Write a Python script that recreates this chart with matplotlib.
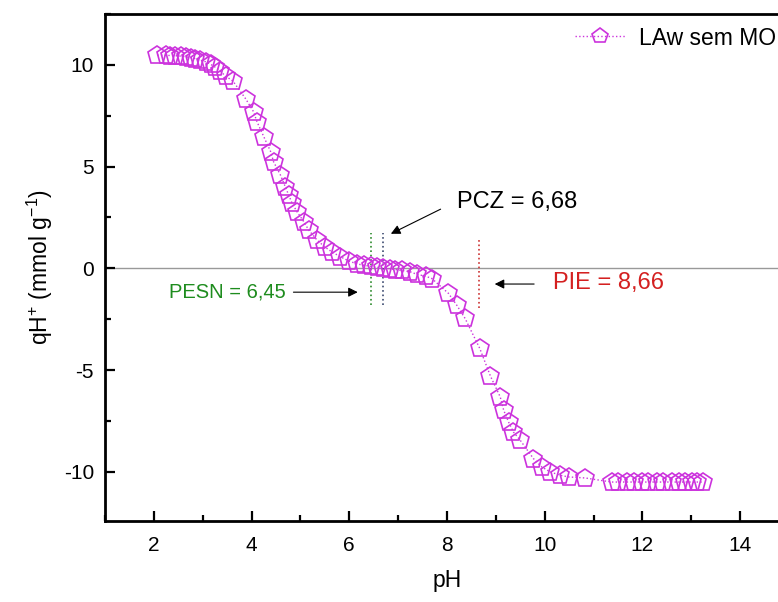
import matplotlib
matplotlib.use('Agg')
import matplotlib.pyplot as plt
from matplotlib.ticker import MultipleLocator

plt.rcParams['font.family'] = ['Liberation Sans', 'DejaVu Sans']
plt.rcParams['mathtext.fontset'] = 'custom'
plt.rcParams['mathtext.rm'] = 'Liberation Sans'
plt.rcParams['mathtext.it'] = 'Liberation Sans:italic'
plt.rcParams['axes.unicode_minus'] = False

ph = [2.07, 2.24, 2.34, 2.44, 2.55, 2.65, 2.75, 2.85, 2.95, 3.06, 3.16, 3.26,
      3.36, 3.47, 3.62, 3.88, 4.04, 4.11, 4.25, 4.39, 4.45, 4.59, 4.69, 4.76,
      4.83, 4.93, 5.07, 5.17, 5.34, 5.50, 5.65, 5.82, 5.99, 6.16, 6.30, 6.45,
      6.57, 6.70, 6.84, 6.94, 7.08, 7.25, 7.39, 7.56, 7.69, 8.03, 8.20, 8.37,
      8.67, 8.89, 9.09, 9.16, 9.26, 9.36, 9.50, 9.77, 9.94, 10.11, 10.32, 10.49,
      10.83, 11.37, 11.51, 11.68, 11.82, 11.99, 12.12, 12.29, 12.43, 12.60,
      12.74, 12.87, 13.01, 13.11, 13.24]
qh = [10.48, 10.47, 10.46, 10.45, 10.43, 10.40, 10.36, 10.31, 10.24, 10.15,
      10.03, 9.88, 9.68, 9.45, 9.20, 8.33, 7.70, 7.21, 6.47, 5.74, 5.24, 4.59,
      4.01, 3.60, 3.20, 2.78, 2.29, 1.88, 1.39, 1.05, 0.80, 0.57, 0.36, 0.22,
      0.15, 0.10, 0.06, 0.00, -0.02, -0.06, -0.10, -0.17, -0.30, -0.38, -0.50,
      -1.23, -1.81, -2.46, -3.93, -5.30, -6.32, -6.97, -7.55, -8.04, -8.45,
      -9.35, -9.76, -10.00, -10.17, -10.25, -10.30, -10.50, -10.50, -10.50,
      -10.50, -10.50, -10.50, -10.50, -10.50, -10.50, -10.50, -10.50, -10.50,
      -10.50, -10.50]

pesn = 6.45
pcz = 6.68
pie = 8.66

fig = plt.figure(figsize=(7.78, 6.02), dpi=100)
ax = fig.add_axes([105 / 778, 81.3 / 602, 684 / 778, 506.7 / 602])

ax.axhline(0, color='#999999', lw=1.0, zorder=1)
ax.plot(ph, qh, ls=':', lw=1.0, color='#CC33DD', marker='p', ms=13.5,
        mfc='none', mew=1.2, label='LAw sem MO', zorder=3)

# vertical markers at the points
ax.vlines(pesn, -1.8, 1.73, colors='#2E8B2E', linestyles=':', lw=1.2)
ax.vlines(pcz, -1.8, 1.73, colors='#3C4A70', linestyles=':', lw=1.2)
ax.vlines(pie, -1.95, 1.5, colors='#CC3333', linestyles=':', lw=1.2)

arrow = dict(arrowstyle='-|>', color='black', lw=0.8, mutation_scale=14)
ax.annotate('', xy=(6.80, 1.64), xytext=(7.92, 2.97), arrowprops=arrow)
ax.text(8.2, 3.28, 'PCZ = 6,68', fontsize=17, color='black', va='center')

ax.annotate('', xy=(8.92, -0.77), xytext=(9.84, -0.77), arrowprops=arrow)
ax.text(10.17, -0.74, 'PIE = 8,66', fontsize=17, color='#D42020', va='center')

ax.annotate('', xy=(6.23, -1.17), xytext=(4.80, -1.17), arrowprops=arrow)
ax.text(2.3, -1.17, 'PESN = 6,45', fontsize=14.5, color='#1E8C1E', va='center')

ax.set_xlim(1, 15)
ax.set_ylim(-12.4, 12.5)
ax.xaxis.set_major_locator(MultipleLocator(2))
ax.xaxis.set_minor_locator(MultipleLocator(1))
ax.yaxis.set_major_locator(MultipleLocator(5))
ax.yaxis.set_minor_locator(MultipleLocator(2.5))
ax.tick_params(which='both', direction='in', top=False, right=False, width=1.6)
ax.tick_params(which='major', length=7.5, labelsize=15)
ax.tick_params(axis='x', which='major', pad=11)
ax.tick_params(axis='y', which='major', pad=8)
ax.tick_params(which='minor', length=4)
for s in ax.spines.values():
    s.set_linewidth(2)
ax.spines['right'].set_visible(False)

ax.set_xlabel('pH', fontsize=16.5, labelpad=10)
ax.set_ylabel('qH$^{+}$ (mmol g$^{-1}$)', fontsize=16.5, labelpad=6)

ax.legend(loc='upper right', bbox_to_anchor=(1.012, 0.975),
          bbox_transform=fig.transFigure, frameon=False, fontsize=16.5,
          handlelength=2.2, handletextpad=0.6, borderaxespad=0.1,
          markerscale=0.85)

fig.savefig('out.png', dpi=100)
